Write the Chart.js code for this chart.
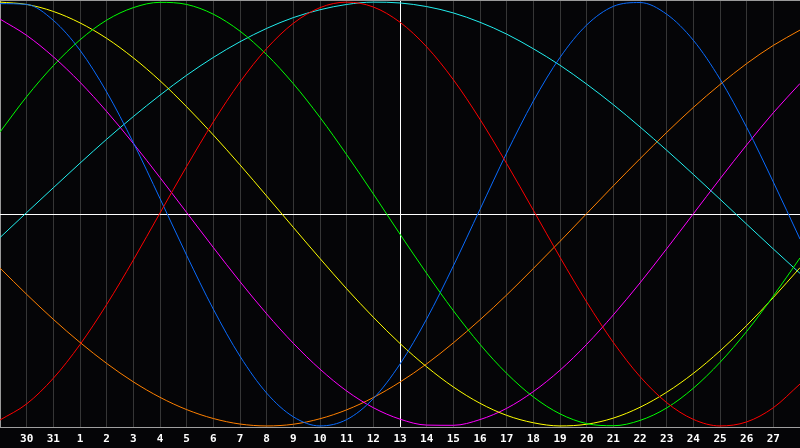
<!DOCTYPE html>
<html>
<head>
<meta charset="utf-8">
<script src="https://cdn.jsdelivr.net/npm/chart.js@4.4.1/dist/chart.umd.min.js"></script>
<style>
  html, body { margin: 0; padding: 0; background: #050507; overflow: hidden; }
  canvas { display: block; }
</style>
</head>
<body>
<canvas id="c" width="800" height="448"></canvas>
<script>
// Day labels along the bottom (index 0 = day 29 of previous month, index 15 = today "13")
const dayLabels = ['29','30','31','1','2','3','4','5','6','7','8','9','10','11','12','13','14','15','16','17','18','19','20','21','22','23','24','25','26','27','28'];
const todayIndex = 15;

// Series values (-1 .. 1), one per day
const blueSeries = [0.993, 0.989, 0.914, 0.773, 0.576, 0.337, 0.073, -0.195, -0.449, -0.671, -0.845, -0.957, -1.000, -0.970, -0.871, -0.708, -0.495, -0.245, 0.022, 0.288, 0.533, 0.739, 0.892, 0.980, 0.998, 0.943, 0.820, 0.637, 0.409, 0.151, -0.118];
const redSeries = [-0.972, -0.896, -0.775, -0.616, -0.427, -0.217, 0.005, 0.225, 0.435, 0.623, 0.781, 0.900, 0.974, 1.000, 0.977, 0.905, 0.789, 0.634, 0.447, 0.238, 0.018, -0.204, -0.415, -0.606, -0.767, -0.890, -0.969, -1.000, -0.981, -0.914, -0.802];
const greenSeries = [0.387, 0.554, 0.700, 0.822, 0.915, 0.974, 0.999, 0.989, 0.943, 0.863, 0.752, 0.615, 0.456, 0.280, 0.095, -0.095, -0.280, -0.456, -0.615, -0.752, -0.863, -0.943, -0.989, -0.999, -0.974, -0.915, -0.822, -0.700, -0.554, -0.387, -0.207];
const yellowSeries = [1.000, 0.989, 0.956, 0.902, 0.829, 0.737, 0.629, 0.506, 0.373, 0.232, 0.085, -0.063, -0.210, -0.353, -0.487, -0.611, -0.721, -0.816, -0.893, -0.950, -0.985, -1.000, -0.992, -0.963, -0.912, -0.841, -0.752, -0.646, -0.526, -0.394, -0.253];
const cyanSeries = [-0.111, 0.007, 0.124, 0.240, 0.353, 0.460, 0.561, 0.655, 0.739, 0.813, 0.876, 0.927, 0.964, 0.989, 1.000, 0.996, 0.979, 0.949, 0.905, 0.849, 0.780, 0.702, 0.613, 0.516, 0.411, 0.301, 0.187, 0.070, -0.048, -0.165, -0.280];
const magentaSeries = [0.920, 0.843, 0.742, 0.622, 0.484, 0.333, 0.172, 0.007, -0.158, -0.319, -0.471, -0.610, -0.732, -0.835, -0.914, -0.968, -0.996, -0.997, -0.970, -0.917, -0.838, -0.737, -0.615, -0.476, -0.325, -0.164, 0.001, 0.166, 0.326, 0.478, 0.616];
const orangeSeries = [-0.255, -0.379, -0.497, -0.606, -0.705, -0.792, -0.865, -0.923, -0.965, -0.991, -1.000, -0.992, -0.966, -0.924, -0.866, -0.793, -0.707, -0.608, -0.499, -0.382, -0.257, -0.129, 0.002, 0.133, 0.261, 0.385, 0.503, 0.611, 0.710, 0.796, 0.868];

const series = [
  { name: 'Red', data: redSeries, color: '#ff0000' },
  { name: 'Green', data: greenSeries, color: '#00ff00' },
  { name: 'Blue', data: blueSeries, color: '#0a6cff' },
  { name: 'Yellow', data: yellowSeries, color: '#ffff00' },
  { name: 'Cyan', data: cyanSeries, color: '#22f0f0' },
  { name: 'Magenta', data: magentaSeries, color: '#ff00ff' },
  { name: 'Orange', data: orangeSeries, color: '#ff8000' }
];

const Y_MAX = 1.01, Y_MIN = -1.005;

const datasets = series.map(s => ({
  label: s.name,
  data: s.data.map((v, i) => ({ x: i, y: v })),
  borderColor: s.color,
  borderWidth: 1,
  pointRadius: 0,
  fill: false,
  cubicInterpolationMode: 'monotone'
}));

new Chart(document.getElementById('c'), {
  type: 'line',
  data: { datasets },
  options: {
    responsive: false,
    animation: false,
    devicePixelRatio: 1,
    layout: { padding: 0 },
    plugins: { legend: { display: false }, tooltip: { enabled: false } },
    scales: {
      x: {
        type: 'linear',
        min: 0,
        max: dayLabels.length - 1,
        afterBuildTicks: (scale) => {
          scale.ticks = dayLabels.map((_, i) => ({ value: i }));
        },
        afterFit: (scale) => {
          scale.height = 21;
          scale.paddingLeft = 0;
          scale.paddingRight = 0;
        },
        ticks: {
          autoSkip: false,
          maxRotation: 0,
          padding: 6,
          color: '#ffffff',
          font: { family: 'DejaVu Sans Mono', size: 11, weight: 'bold' },
          callback: (v) => (v === 0 || v === dayLabels.length - 1) ? '' : dayLabels[v]
        },
        grid: {
          drawTicks: false,
          lineWidth: 1,
          color: (ctx) => {
            if (ctx.tick && ctx.tick.value === todayIndex) return '#ffffff';
            if (ctx.tick && ctx.tick.value === 0) return '#9a9a9a';
            return '#363636';
          }
        },
        border: { display: true, color: '#a0a0a0', width: 1 }
      },
      y: {
        min: Y_MIN,
        max: Y_MAX,
        afterBuildTicks: (scale) => {
          scale.ticks = [{ value: 0 }, { value: Y_MAX }];
        },
        afterFit: (scale) => {
          scale.width = 0;
          scale.paddingTop = 0;
          scale.paddingBottom = 0;
        },
        ticks: { display: false },
        grid: {
          drawTicks: false,
          lineWidth: 1,
          color: (ctx) => (ctx.tick && ctx.tick.value === 0) ? '#ffffff' : '#9a9a9a'
        },
        border: { display: false }
      }
    }
  }
});
</script>
</body>
</html>
